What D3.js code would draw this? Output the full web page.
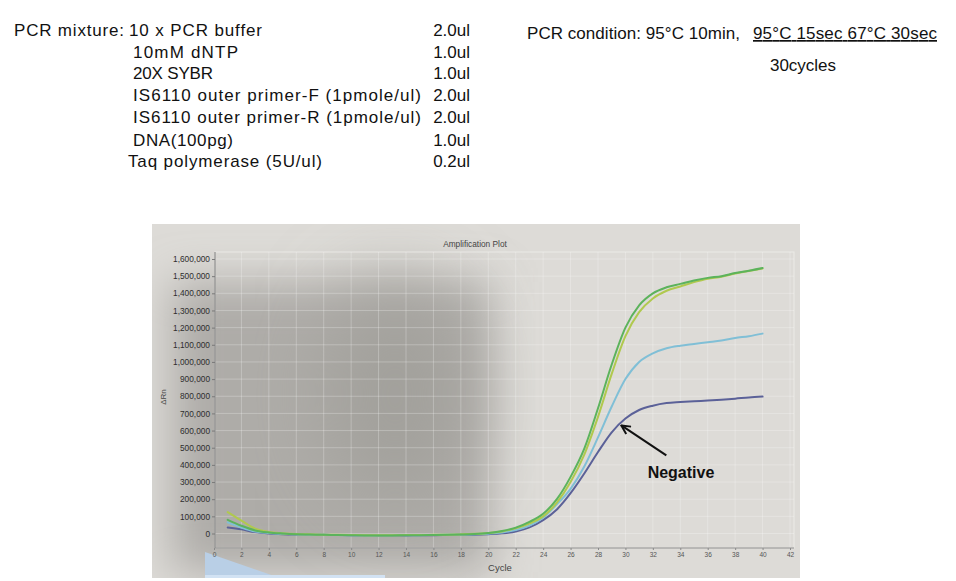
<!DOCTYPE html>
<html><head><meta charset="utf-8">
<script src="https://cdn.jsdelivr.net/npm/d3@7/dist/d3.min.js"></script>
<style>html,body{margin:0;padding:0;background:#fff;}svg{display:block;}</style>
</head><body>
<script>
// ---- data ----
const cycles = d3.range(1, 41);
const xTicks = d3.range(0, 43, 2);
const yTicks = d3.range(0, 1600001, 100000);
const seriesNames = ["Sample 1", "Sample 2", "Sample 3", "Negative"];
const seriesColors = ["#b0c94e", "#5cb35c", "#80bfd6", "#5b6198"];
const sampleYellow = [125000, 75000, 28000, 9000, 2000, -3000, -5000, -7000, -8000, -9000, -10000, -10000, -10000, -9000, -9000, -8000, -7000, -5000, -2000, 3000, 12000, 30000, 58000, 100000, 180000, 300000, 460000, 680000, 930000, 1150000, 1290000, 1370000, 1415000, 1440000, 1465000, 1485000, 1497000, 1515000, 1530000, 1545000];
const sampleGreen = [80000, 45000, 18000, 6000, 0, -4000, -6000, -8000, -9000, -10000, -11000, -11000, -11000, -10000, -10000, -9000, -8000, -6000, -3000, 3000, 14000, 34000, 68000, 115000, 200000, 330000, 495000, 730000, 985000, 1200000, 1330000, 1400000, 1435000, 1455000, 1475000, 1490000, 1500000, 1518000, 1532000, 1548000];
const sampleBlue = [65000, 35000, 12000, 3000, -2000, -5000, -7000, -8000, -9000, -10000, -11000, -11000, -11000, -10000, -10000, -9000, -8000, -7000, -5000, -1000, 6000, 20000, 46000, 92000, 170000, 260000, 390000, 560000, 740000, 900000, 1000000, 1050000, 1080000, 1095000, 1105000, 1115000, 1125000, 1140000, 1150000, 1165000];
const negative = [35000, 24000, 8000, 0, -4000, -6000, -7000, -8000, -9000, -10000, -10000, -11000, -11000, -11000, -10000, -10000, -9000, -8000, -7000, -4000, 1000, 12000, 36000, 78000, 140000, 235000, 350000, 475000, 590000, 670000, 720000, 745000, 760000, 766000, 771000, 775000, 780000, 786000, 793000, 798000];
const seriesValues = [sampleYellow, sampleGreen, sampleBlue, negative];
const mixtureItems = ["10 x PCR buffer", "10mM dNTP", "20X SYBR", "IS6110 outer primer-F (1pmole/ul)", "IS6110 outer primer-R (1pmole/ul)", "DNA(100pg)", "Taq polymerase (5U/ul)"];
const mixtureVolumes = ["2.0ul", "1.0ul", "1.0ul", "2.0ul", "2.0ul", "1.0ul", "0.2ul"];
const negativeAt = {cycle: 29.7, value: 630000};

// ---- layout ----
const W = 956, H = 581;
const svg = d3.select("body").append("svg").attr("width", W).attr("height", H);
const arial = "'Liberation Sans', Arial, sans-serif";

// header text
const hdr = svg.append("g").attr("font-family", arial).attr("font-size", 17).attr("fill", "#111");
hdr.append("text").attr("x", 14).attr("y", 36).attr("textLength", 110).attr("lengthAdjust", "spacing").text("PCR mixture:");
const rowY = [36, 58, 79, 101, 123, 146, 167];
const rowX = [129, 133, 133, 133, 133, 133, 128];
const rowW = [133, 105, 80, 288, 288, 100, 194];
mixtureItems.forEach((t, i) => {
  hdr.append("text").attr("x", rowX[i]).attr("y", rowY[i])
    .attr("textLength", rowW[i]).attr("lengthAdjust", "spacing").text(t);
  hdr.append("text").attr("x", 470).attr("y", rowY[i]).attr("text-anchor", "end").text(mixtureVolumes[i]);
});
hdr.append("text").attr("x", 527).attr("y", 39).attr("textLength", 213).attr("lengthAdjust", "spacing")
  .text("PCR condition: 95°C 10min,");
hdr.append("text").attr("x", 753).attr("y", 39).attr("textLength", 184).attr("lengthAdjust", "spacing")
  .attr("text-decoration", "underline").text("95°C 15sec 67°C 30sec");
hdr.append("text").attr("x", 803).attr("y", 71).attr("text-anchor", "middle").text("30cycles");

// photo background
const defs = svg.append("defs");
defs.append("clipPath").attr("id", "photo").append("rect")
  .attr("x", 152).attr("y", 224).attr("width", 648).attr("height", 354);
const f1 = defs.append("filter").attr("id", "blur1").attr("x", "-50%").attr("y", "-50%").attr("width", "200%").attr("height", "200%");
f1.append("feGaussianBlur").attr("stdDeviation", 22);
const f2 = defs.append("filter").attr("id", "blur2").attr("x", "-50%").attr("y", "-50%").attr("width", "200%").attr("height", "200%");
f2.append("feGaussianBlur").attr("stdDeviation", 40);
const bg = svg.append("g").attr("clip-path", "url(#photo)");
bg.append("rect").attr("x", 152).attr("y", 224).attr("width", 648).attr("height", 354).attr("fill", "#dddbd7");
bg.append("rect").attr("x", 172).attr("y", 282).attr("width", 318).attr("height", 290).attr("fill", "#aeaca8").attr("filter", "url(#blur1)");
bg.append("ellipse").attr("cx", 395).attr("cy", 395).attr("rx", 70).attr("ry", 110).attr("fill", "#a2a09b").attr("filter", "url(#blur2)");
// watermark
bg.append("path").attr("d", "M205,552 L280,578 L205,578 Z").attr("fill", "#b9cfe6");
bg.append("rect").attr("x", 205).attr("y", 575).attr("width", 180).attr("height", 3).attr("fill", "#d2e2f3");

// scales
const x = d3.scaleLinear().domain([0, 42]).range([214, 790]);
const y = d3.scaleLinear().domain([0, 1600000]).range([533.5, 259]);
const frame = {left: 215, top: 252, right: 794, bottom: 548};

const plot = svg.append("g");
plot.append("rect").attr("x", frame.left).attr("y", frame.top).attr("width", frame.right - frame.left).attr("height", frame.bottom - frame.top)
  .attr("fill", "none").attr("stroke", "#f2f2ee").attr("stroke-opacity", 0.7);
// grid
plot.append("g").selectAll("line").data(xTicks.slice(1)).join("line")
  .attr("x1", d => x(d)).attr("x2", d => x(d)).attr("y1", frame.top).attr("y2", frame.bottom)
  .attr("stroke", "#ffffff").attr("stroke-opacity", 0.25);
plot.append("g").selectAll("line").data(yTicks).join("line")
  .attr("x1", frame.left).attr("x2", frame.right).attr("y1", d => y(d)).attr("y2", d => y(d))
  .attr("stroke", "#ffffff").attr("stroke-opacity", 0.25);

// axes
const yAxis = plot.append("g").attr("transform", `translate(${frame.left},0)`)
  .call(d3.axisLeft(y).tickValues(yTicks).tickSize(3).tickPadding(2).tickFormat(d3.format(",")));
yAxis.selectAll("text").attr("font-family", arial).attr("font-size", 8.3).attr("fill", "#2e2e2e");
yAxis.select(".domain").attr("d", `M0,${frame.top}V${frame.bottom}`).attr("stroke", "#7a7a7a");
yAxis.selectAll(".tick line").attr("stroke", "#7a7a7a");

const xAxis = plot.append("g").attr("transform", `translate(0,${frame.bottom})`)
  .call(d3.axisBottom(x).tickValues(xTicks).tickSize(2).tickPadding(2).tickFormat(d3.format("d")));
xAxis.selectAll("text").attr("font-family", arial).attr("font-size", 6.5).attr("fill", "#555");
xAxis.select(".domain").attr("d", `M${frame.left},0H${frame.right}`).attr("stroke", "#8a8a8a");
xAxis.selectAll(".tick line").attr("stroke", "#8a8a8a");

plot.append("text").attr("x", 500).attr("y", 571).attr("text-anchor", "middle")
  .attr("font-family", arial).attr("font-size", 9.5).attr("fill", "#444").text("Cycle");
plot.append("text").attr("transform", "translate(166,397) rotate(-90)").attr("text-anchor", "middle")
  .attr("font-family", arial).attr("font-size", 8).attr("fill", "#444").text("ΔRn");
plot.append("text").attr("x", 475).attr("y", 247).attr("text-anchor", "middle")
  .attr("font-family", arial).attr("font-size", 8.3).attr("fill", "#444").text("Amplification Plot");

// lines
const line = d3.line().x((d, i) => x(cycles[i])).y(d => y(d)).curve(d3.curveMonotoneX);
const order = [3, 2, 0, 1];
plot.append("g").selectAll("path").data(order).join("path")
  .attr("d", i => line(seriesValues[i]))
  .attr("fill", "none").attr("stroke", i => seriesColors[i]).attr("stroke-width", 2)
  .attr("stroke-linejoin", "round").attr("stroke-linecap", "round");

// annotation
const tipX = x(negativeAt.cycle), tipY = y(negativeAt.value);
const tailX = tipX + 45, tailY = tipY + 30;
defs.append("marker").attr("id", "arr").attr("viewBox", "0 0 10 10").attr("refX", 9).attr("refY", 5)
  .attr("markerWidth", 11).attr("markerHeight", 11).attr("markerUnits", "userSpaceOnUse").attr("orient", "auto")
  .append("path").attr("d", "M1,1 L9,5 L1,9").attr("fill", "none").attr("stroke", "#111").attr("stroke-width", 1.8);
plot.append("line").attr("x1", tailX).attr("y1", tailY).attr("x2", tipX).attr("y2", tipY)
  .attr("stroke", "#111").attr("stroke-width", 2).attr("marker-end", "url(#arr)");
plot.append("text").attr("x", 681).attr("y", 478).attr("text-anchor", "middle")
  .attr("font-family", arial).attr("font-weight", "bold").attr("font-size", 16).attr("fill", "#111").text(seriesNames[3]);
</script>
</body></html>
